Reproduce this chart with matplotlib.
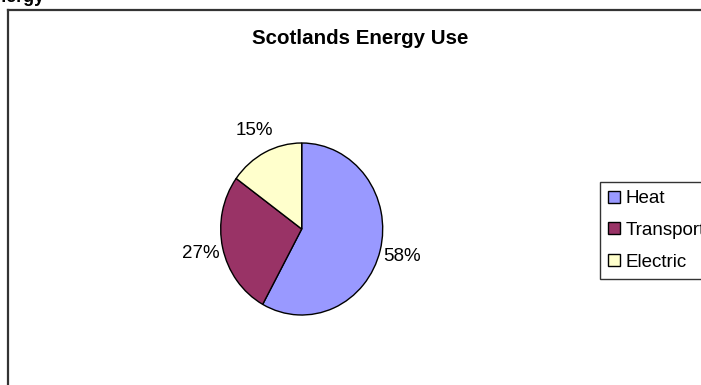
import matplotlib
matplotlib.use("Agg")
import matplotlib.pyplot as plt
from matplotlib.lines import Line2D

plt.rcParams['font.family'] = ['Liberation Sans', 'DejaVu Sans']

# dados
categorias = ["Heat", "Transport", "Electric"]
valores = [58, 27, 15]
cores = ["#9999FF", "#993366", "#FFFFCC"]

W, H = 701, 385
fig = plt.figure(figsize=(W / 100, H / 100), dpi=100)

def fx(px):
    return px / W

def fy(py):
    return 1 - py / H

# moldura do grafico (cortada a direita e embaixo)
fig.add_artist(Line2D([fx(8), 1.0], [fy(10), fy(10)], color="#333333", lw=1.6))
fig.add_artist(Line2D([fx(8), fx(8)], [fy(10), 0.0], color="#333333", lw=1.6))

# texto cortado no topo
fig.text(fx(45), fy(2), "Energy", ha="right", va="baseline",
         fontsize=13, weight="bold")

# titulo
fig.text(fx(360), fy(39), "Scotlands Energy Use", ha="center", va="center",
         fontsize=14.8, weight="bold")

# pizza (levemente eliptica como no original)
cx, cy, rx, ry = 301.7, 229, 81, 86
ax = fig.add_axes([fx(cx - rx), fy(cy + ry), 2 * rx / W, 2 * ry / H])
wedges, textos, pcts = ax.pie(
    valores, colors=cores, startangle=90, counterclock=False,
    autopct="%1.0f%%", pctdistance=1.28,
    wedgeprops=dict(edgecolor="black", linewidth=1.0),
    textprops=dict(fontsize=13.5))
ax.set_aspect("auto")
ax.set_xlim(-1, 1)
ax.set_ylim(-1, 1)

# legenda
leg = fig.legend(wedges, categorias, loc="upper left",
                 bbox_to_anchor=(fx(600), fy(182)), frameon=True,
                 fancybox=False, edgecolor="black", fontsize=13.5,
                 handlelength=0.6, handleheight=0.6, handletextpad=0.3,
                 labelspacing=0.78, borderpad=0.45, borderaxespad=0)
leg.get_frame().set_linewidth(1.0)

fig.savefig("out.png", dpi=100)
